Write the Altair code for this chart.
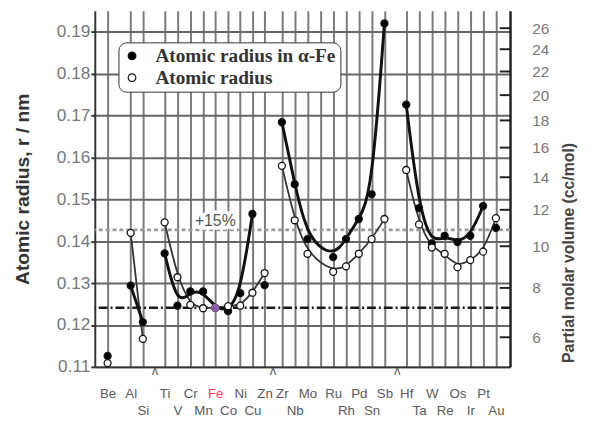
import altair as alt
import pandas as pd

# ---------------- data ----------------
elements = ["Be", "Al", "Si", "Ti", "V", "Cr", "Mn", "Fe", "Co", "Ni", "Cu", "Zn",
            "Zr", "Nb", "Mo", "Ru", "Rh", "Pd", "Sn", "Sb",
            "Hf", "Ta", "W", "Re", "Os", "Ir", "Pt", "Au"]
# position of each element along the (slotted) x axis
slot = [1.0, 2.8, 3.75, 5.45, 6.45, 7.45, 8.45, 9.4, 10.4, 11.35, 12.3, 13.25,
        14.6, 15.6, 16.6, 18.6, 19.6, 20.6, 21.6, 22.6,
        24.3, 25.3, 26.3, 27.3, 28.3, 29.3, 30.3, 31.3]
extra_grid = [17.6]
label_row = [1, 1, 2, 1, 2, 1, 2, 1, 2, 1, 2, 1,
             1, 2, 1, 1, 2, 1, 2, 1,
             1, 2, 1, 2, 1, 2, 1, 2]
# curve membership (-1 = point not on a curve)
curve_fe = [-1, 1, 1, 2, 2, 2, 2, 2, 2, 2, 2, -1,
            3, 3, 3, 3, 3, 3, 3, 3,
            4, 4, 4, 4, 4, 4, 4, -1]
curve_at = [-1, 1, 1, 2, 2, 2, 2, 2, 2, 2, 2, 2,
            3, 3, 3, 3, 3, 3, 3, 3,
            4, 4, 4, 4, 4, 4, 4, 4]
r_in_fe = [0.1126, 0.1294, 0.1207, 0.1371, 0.1246, 0.1280, 0.1280, 0.1241, 0.1233, 0.1276, 0.1465, 0.1295,
           0.1684, 0.1536, 0.1405, 0.1362, 0.1405, 0.1453, 0.1512, 0.1920,
           0.1726, 0.1479, 0.1395, 0.1413, 0.1398, 0.1413, 0.1484, 0.1432]
r_atomic = [0.1109, 0.1420, 0.1167, 0.1445, 0.1314, 0.1248, 0.1240, 0.1241, 0.1245, 0.1246, 0.1277, 0.1324,
            0.1580, 0.1450, 0.1370, 0.1327, 0.1340, 0.1370, 0.1405, 0.1453,
            0.1570, 0.1440, 0.1385, 0.1370, 0.1338, 0.1355, 0.1375, 0.1455]

r_ticks = [0.11, 0.12, 0.13, 0.14, 0.15, 0.16, 0.17, 0.18, 0.19]
vol_ticks = [6, 8, 10, 12, 14, 16, 18, 20, 22, 24, 26]
K_VOL = 3740.0            # V (cc/mol) = K * r^3  (r in nm)
R_FE = 0.1241
R_PLUS15 = 0.1427
break_slots = [4.7, 13.9, 23.6]

series_fe = "Atomic radius in \u03b1-Fe"
series_at = "Atomic radius"

# ---------------- tables ----------------
rows = []
for e, s, cf, ca, a, b in zip(elements, slot, curve_fe, curve_at, r_in_fe, r_atomic):
    rows.append({"el": e, "x": s, "g": cf, "r": a, "series": series_fe})
    rows.append({"el": e, "x": s, "g": ca, "r": b, "series": series_at})
df = pd.DataFrame(rows)
df_fe_pt = pd.DataFrame({"x": [slot[elements.index("Fe")]], "r": [R_FE]})
df_vol = pd.DataFrame({"V": vol_ticks})
df_breaks = pd.DataFrame({"x": break_slots})

XMAX = 32.4
x_scale = alt.Scale(domain=[0, XMAX], nice=False, zero=False)
y_scale = alt.Scale(domain=[0.11, 0.195], nice=False, zero=False)
YTITLE = "Atomic radius, r / nm"

# label expression (two rows of labels)
parts = []
for e, s, row in zip(elements, slot, label_row):
    txt = f"['{e}']" if row == 1 else f"['', '{e}']"
    parts.append(f"datum.value == {s} ? {txt} : ")
label_expr = "".join(parts) + "''"

FE_X = slot[elements.index("Fe")]
x_axis = alt.Axis(values=sorted(slot + extra_grid), tickCount=200,
                  labelExpr=label_expr, title=None, ticks=False,
                  grid=True, gridColor="#7a7a7a", gridWidth=2,
                  domain=True, domainColor="#333", domainWidth=2,
                  labelFont="Liberation Sans", labelFontSize=13.5, labelPadding=20,
                  labelLineHeight=17, labelAngle=0, labelOverlap=False, labelBound=False,
                  labelColor=alt.condition(f"datum.value == {FE_X}",
                                           alt.value("#ff4466"), alt.value("#5a5a5a")))
y_axis = alt.Axis(values=r_ticks, tickCount=200, format=".2f", title=YTITLE,
                  grid=True, gridColor="#666", gridWidth=2,
                  domain=True, domainColor="#333", domainWidth=2,
                  tickSize=4, tickColor="#333", tickWidth=2,
                  labelFont="Liberation Sans", labelFontSize=17.5, labelColor="#777",
                  labelPadding=1,
                  titleFont="Liberation Sans", titleFontSize=19.5, titleFontWeight="bold",
                  titleColor="#333", titlePadding=24)

X = alt.X("x:Q", scale=x_scale, axis=x_axis)
Y = alt.Y("r:Q", scale=y_scale, axis=y_axis, title=YTITLE)

fe_line = alt.Chart(df_fe_pt).mark_rule(color="#1a1a1a", strokeWidth=2.5,
                                        strokeDash=[9, 3, 2, 3]).encode(y=Y)

p15_line = alt.Chart(df_fe_pt).mark_rule(color="#9a9a9a", strokeWidth=3,
                                         strokeDash=[4, 3]).encode(
    y=alt.YDatum(R_PLUS15, scale=y_scale, title=YTITLE))

base = alt.Chart(df)

line_at = base.transform_filter(
    f"datum.series == '{series_at}' && datum.g >= 0").mark_line(
    color="#333", strokeWidth=1.8, interpolate="basis").encode(
    x=X, y=Y, detail="g:N")
line_fe = base.transform_filter(
    f"datum.series == '{series_fe}' && datum.g >= 0").mark_line(
    color="#111", strokeWidth=3, interpolate="basis").encode(
    x=X, y=Y, detail="g:N")

pts = base.mark_point(filled=False, size=50, shape="circle", stroke="#111",
                      strokeWidth=1.3, opacity=1).encode(
    x=X, y=Y,
    fill=alt.Fill("series:N",
                  scale=alt.Scale(domain=[series_fe, series_at], range=["#000", "#fff"]),
                  legend=alt.Legend(title=None, orient="none", legendX=24, legendY=32,
                                    direction="vertical",
                                    fillColor="white", strokeColor="#333",
                                    cornerRadius=8, padding=4,
                                    labelFont="Liberation Serif", labelFontSize=19.5,
                                    labelFontWeight="bold", labelColor="#333",
                                    symbolType="circle", symbolSize=60,
                                    symbolStrokeColor="#111", symbolStrokeWidth=1.2,
                                    rowPadding=1, labelOffset=14, labelLimit=400,
                                    offset=0)))

fe_pt = alt.Chart(df_fe_pt).mark_point(filled=True, size=70, shape="circle",
                                       color="#8a5fa8", opacity=1).encode(x=X, y=Y)

pct_df = pd.DataFrame({"x": [9.4], "r": [0.1448], "t": ["+15%"]})
pct_halo = alt.Chart(pct_df).mark_text(fontSize=16, font="Liberation Sans",
                                       stroke="white", strokeWidth=7, color="white").encode(
    x=X, y=Y, text="t:N")
pct_txt = alt.Chart(pct_df).mark_text(fontSize=16, font="Liberation Sans",
                                      color="#555").encode(x=X, y=Y, text="t:N")

breaks = alt.Chart(df_breaks).mark_text(text="\u028c", fontSize=13, color="#555",
                                        baseline="middle", dy=4).encode(
    x=X, y=alt.YDatum(0.11, scale=y_scale, title=YTITLE))

inner = alt.layer(p15_line, fe_line, line_at, line_fe, pts, fe_pt, pct_halo, pct_txt, breaks)

vol_scale = alt.Scale(type="pow", exponent=1 / 3,
                      domain=[K_VOL * 0.11 ** 3, K_VOL * 0.195 ** 3], nice=False, zero=False)
right = alt.Chart(df_vol).mark_rule(color="#222", strokeWidth=2).encode(
    x=alt.XDatum(31.6, scale=x_scale),
    x2=alt.X2Datum(XMAX),
    y=alt.Y("V:Q", scale=vol_scale,
            axis=alt.Axis(orient="right", values=vol_ticks, tickCount=200, ticks=False,
                          grid=False, format="d",
                          domain=True, domainColor="#222", domainWidth=2.5,
                          labelFont="Liberation Sans", labelFontSize=15.5, labelColor="#777",
                          labelPadding=22,
                          title="Partial molar volume (cc/mol)", titleAngle=-90,
                          titleY=245,
                          titleFont="Liberation Sans", titleFontSize=16,
                          titleFontWeight="bold", titleColor="#444", titlePadding=28)))

chart = alt.layer(inner, right).resolve_scale(y="independent").properties(
    width=421, height=361,
    autosize=alt.AutoSizeParams(type="none"),
    padding={"left": 88, "top": 0, "right": 75, "bottom": 50},
).configure_view(stroke=None)

chart.save("out.html", embed_options={"renderer": "svg", "actions": False})
